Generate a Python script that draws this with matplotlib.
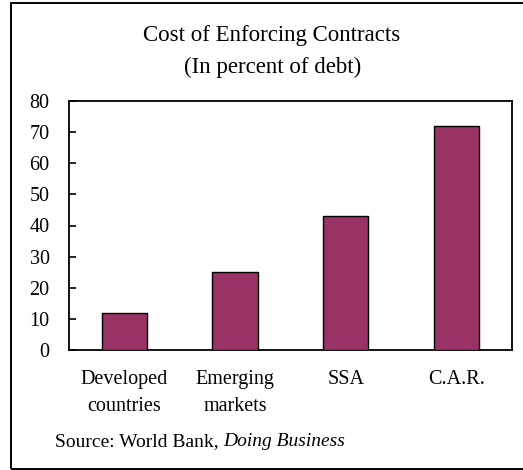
import matplotlib
matplotlib.use("Agg")
import matplotlib.pyplot as plt
from matplotlib.patches import Rectangle

categories = ["Developed\ncountries", "Emerging\nmarkets", "SSA", "C.A.R."]
values = [12, 25, 43, 72]
yticks = [0, 10, 20, 30, 40, 50, 60, 70, 80]

plt.rcParams["font.family"] = ["Liberation Serif", "DejaVu Serif"]

W, H = 523, 470
fig = plt.figure(figsize=(W / 100, H / 100), dpi=100)

# outer frame around the whole exhibit
fig.patches.append(Rectangle((11 / W, 1 - 469 / H), 1.2, (469 - 3) / H,
                             transform=fig.transFigure, fill=False,
                             edgecolor="black", linewidth=1.4))

ax = fig.add_axes([69 / W, 1 - 350.3 / H, (511.7 - 69) / W, (350.3 - 100.7) / H])

x = range(len(categories))
ax.bar(x, values, width=0.41, color="#993366", edgecolor="black", linewidth=1.0,
       zorder=3)

ax.set_xlim(-0.5, len(categories) - 0.5)
ax.set_ylim(0, 80)
ax.set_yticks(yticks)
ax.set_yticklabels([str(v) for v in yticks], fontsize=14.5)
ax.tick_params(axis="y", direction="in", length=5, width=1.2, pad=14)
ax.set_xticks(list(x))
ax.set_xticklabels(categories, fontsize=14.5, linespacing=1.6, va="top")
ax.tick_params(axis="x", length=0, pad=14)
for s in ax.spines.values():
    s.set_linewidth(1.3)
    s.set_color("black")

fig.text(272 / W, 1 - 36 / H, "Cost of Enforcing Contracts", ha="center",
         va="center", fontsize=16.5)
fig.text(273 / W, 1 - 67 / H, "(In percent of debt)", ha="center",
         va="center", fontsize=16.5)

src = fig.text(55 / W, 1 - 442 / H, "Source: World Bank, ", ha="left",
               va="center", fontsize=14)
ax.annotate("Doing Business", xy=(1, 0.5), xycoords=src, ha="left",
            va="center", fontsize=14, style="italic",
            annotation_clip=False)

fig.savefig("out.png", dpi=100)
